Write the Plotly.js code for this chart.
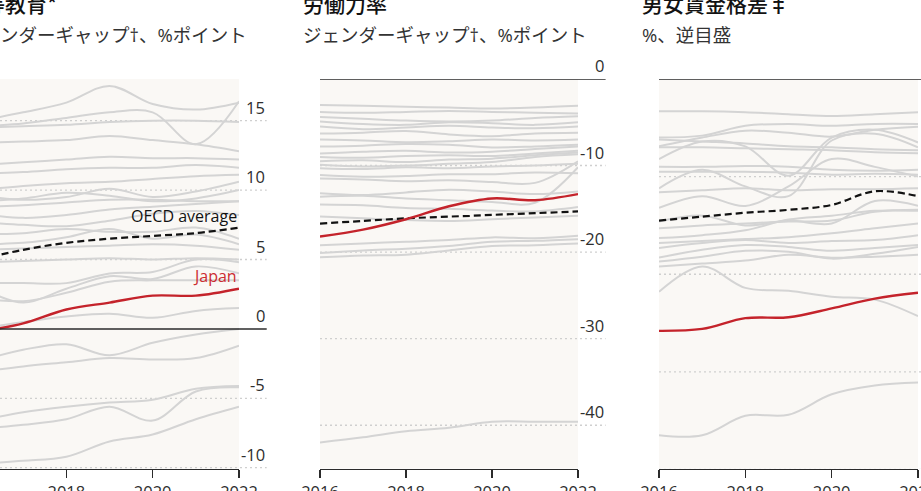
<!DOCTYPE html>
<html>
<head>
<meta charset="utf-8">
<script src="https://cdn.plot.ly/plotly-3.0.1.min.js"></script>
<style>
  html, body { margin: 0; padding: 0; width: 921px; height: 491px; overflow: hidden; background: #fff; }
  #chart { position: absolute; left: -60px; top: -20px; width: 1000px; height: 530px; }
</style>
</head>
<body>
<div id="chart"></div>
<script>
const years = [2016, 2017, 2018, 2019, 2020, 2021, 2022];
const yearTicks = [2016, 2018, 2020, 2022];

// panel 1: tertiary education gap, % points
const eduTicks = [15, 10, 5, 0, -5, -10];
const eduJapan = [-0.2, 0.4, 1.4, 1.9, 2.4, 2.4, 2.9];
const eduOecd = [5.0, 5.7, 6.2, 6.5, 6.7, 6.9, 7.3];
const eduOthers = [
    [15.0, 15.6, 16.3, 17.5, 16.2, 15.8, 16.3],
    [14.6, 14.8, 15.2, 15.6, 15.6, 13.3, 16.4],
    [14.5, 14.6, 14.7, 14.9, 15.0, 15.0, 14.9],
    [13.4, 13.5, 13.6, 13.9, 13.6, 13.3, 12.8],
    [11.8, 12.0, 12.2, 12.4, 12.3, 12.3, 12.2],
    [11.2, 11.3, 11.5, 11.6, 11.6, 11.8, 11.6],
    [10.0, 10.3, 10.5, 10.6, 10.8, 11.0, 11.1],
    [9.6, 9.3, 9.5, 10.1, 9.5, 9.9, 10.6],
    [9.2, 9.4, 9.8, 9.6, 9.2, 9.4, 10.0],
    [8.8, 8.9, 9.1, 9.3, 9.3, 9.2, 9.2],
    [8.3, 8.0, 8.2, 8.6, 8.8, 9.0, 9.2],
    [7.7, 7.5, 7.4, 7.8, 8.3, 8.5, 8.2],
    [6.8, 6.9, 7.2, 7.0, 7.0, 7.3, 6.5],
    [6.1, 6.2, 6.6, 7.2, 6.5, 6.8, 6.1],
    [5.7, 5.8, 5.9, 6.0, 6.1, 6.0, 5.7],
    [4.8, 4.9, 5.0, 5.1, 5.0, 5.1, 5.0],
    [3.3, 3.3, 3.3, 4.0, 4.1, 5.0, 4.8],
    [2.2, 2.0, 2.6, 3.4, 3.5, 3.5, 3.5],
    [3.0, 1.9, 2.9, 3.8, 3.6, 4.5, 4.0],
    [0.0, 0.5, 0.9, 1.1, 0.8, 1.3, 1.5],
    [-2.3, -1.5, -1.1, -1.9, -1.0, -0.4, 0.0],
    [-3.1, -2.7, -2.4, -2.1, -2.2, -2.1, -1.2],
    [-6.6, -6.0, -5.6, -5.3, -5.1, -4.3, -4.1],
    [-7.2, -6.9, -6.5, -5.6, -6.6, -4.5, -4.2],
    [-9.7, -9.5, -9.2, -8.1, -7.6, -6.5, -5.6]
];

// panel 2: labour-force participation gap, % points
const labTicks = [0, -10, -20, -30, -40];
const labJapan = [-18.2, -17.4, -16.2, -14.7, -13.8, -14.0, -13.3];
const labOecd = [-16.7, -16.4, -16.1, -15.9, -15.7, -15.5, -15.3];
const labOthers = [
    [-3.0, -3.1, -3.2, -3.3, -3.4, -3.3, -3.1],
    [-3.8, -3.9, -3.8, -3.7, -3.8, -3.9, -4.0],
    [-4.4, -4.6, -4.8, -4.9, -4.8, -4.5, -4.3],
    [-4.9, -5.2, -5.3, -5.0, -5.1, -5.3, -5.0],
    [-5.5, -5.8, -5.6, -5.4, -5.6, -5.7, -5.5],
    [-6.3, -6.2, -6.0, -6.4, -6.6, -6.3, -6.2],
    [-7.0, -7.1, -7.3, -7.2, -7.0, -7.1, -7.0],
    [-7.8, -7.7, -7.5, -7.6, -7.9, -7.8, -7.6],
    [-8.6, -8.4, -8.3, -8.5, -8.4, -8.1, -7.8],
    [-9.0, -9.1, -8.9, -8.8, -8.9, -8.6, -8.3],
    [-9.5, -9.4, -9.6, -9.3, -9.2, -8.8, -8.5],
    [-9.9, -10.1, -10.0, -9.8, -9.6, -9.0, -8.7],
    [-10.3, -10.4, -10.2, -10.3, -10.1, -10.0, -9.8],
    [-11.1, -11.3, -11.2, -11.0, -11.0, -10.8, -10.9],
    [-11.5, -11.6, -11.8, -11.7, -11.9, -12.0, -9.5],
    [-13.2, -13.4, -13.1, -12.8, -13.0, -13.3, -13.0],
    [-13.6, -13.5, -13.8, -14.0, -14.2, -14.3, -10.2],
    [-14.5, -14.6, -14.9, -15.0, -15.2, -15.3, -14.8],
    [-15.9, -16.1, -16.3, -16.4, -16.2, -16.0, -15.8],
    [-19.2, -19.0, -18.8, -18.6, -18.3, -18.4, -18.1],
    [-20.1, -19.8, -19.6, -19.3, -18.8, -18.7, -18.5],
    [-20.6, -20.4, -20.3, -19.8, -19.3, -19.2, -19.0],
    [-42.0, -41.4, -40.7, -40.3, -39.6, -39.6, -39.6]
];

// panel 3: gender wage gap, %, inverted scale
const wageTicks = [0, 10, 20, 30, 40];
const wageJapan = [25.8, 25.6, 24.5, 24.4, 23.5, 22.5, 21.9];
const wageOecd = [14.5, 14.1, 13.7, 13.4, 12.9, 11.5, 12.0];
const wageOthers = [
    [3.3, 3.3, 3.4, 3.6, 3.8, 3.6, 3.4],
    [6.0, 5.8, 4.8, 4.6, 4.8, 4.6, 4.6],
    [6.9, 6.0, 5.3, 5.5, 5.9, 5.2, 4.9],
    [6.2, 6.4, 6.6, 6.9, 7.0, 7.2, 7.3],
    [7.0, 7.0, 7.1, 7.2, 7.3, 7.5, 7.6],
    [9.0, 9.0, 8.9, 9.0, 9.3, 9.4, 9.3],
    [8.2, 6.4, 6.9, 9.9, 6.0, 5.2, 6.5],
    [9.5, 9.5, 9.5, 9.6, 9.8, 9.7, 9.8],
    [11.2, 9.3, 11.0, 12.0, 6.3, 5.6, 7.0],
    [11.6, 11.4, 11.2, 11.4, 11.3, 11.3, 11.2],
    [13.2, 12.0, 13.0, 11.0, 8.2, 9.0, 10.0],
    [14.6, 14.0, 15.0, 14.5, 14.8, 12.5, 13.0],
    [15.3, 15.0, 14.8, 14.6, 14.5, 13.6, 13.4],
    [16.3, 16.0, 15.5, 14.4, 14.0, 13.5, 13.5],
    [16.8, 16.6, 16.4, 16.2, 15.8, 15.3, 14.8],
    [17.3, 16.8, 16.5, 16.8, 16.6, 16.5, 16.0],
    [18.3, 17.5, 17.0, 17.2, 17.6, 17.3, 17.0],
    [18.7, 18.2, 17.6, 17.7, 18.4, 17.9, 17.2],
    [19.2, 18.9, 18.6, 18.0, 18.3, 18.2, 18.0],
    [21.8, 19.2, 21.4, 21.7, 22.3, 22.6, 24.3],
    [36.5, 36.5, 34.5, 34.4, 32.3, 31.4, 31.1]
];

const GREY = '#d4d4d4', RED = '#c4232b', INK = '#121212';
const JP = "'Noto Sans CJK JP', sans-serif";
const LAT = "'Open Sans', 'Noto Sans CJK JP', sans-serif";
const EXT = 1.107; // gridlines run past the plot into the label column

const panels = [
    { ax: '', others: eduOthers, japan: eduJapan, oecd: eduOecd, ticks: eduTicks, solid: 0,
      title: '高等教育*', sub: 'ジェンダーギャップ†、%ポイント' },
    { ax: '2', others: labOthers, japan: labJapan, oecd: labOecd, ticks: labTicks, solid: 0,
      title: '労働力率', sub: 'ジェンダーギャップ†、%ポイント' },
    { ax: '3', others: wageOthers, japan: wageJapan, oecd: wageOecd, ticks: wageTicks, solid: 0,
      title: '男女賃金格差‡', sub: '%、逆目盛' }
];

const traces = [], shapes = [], annotations = [];

panels.forEach(p => {
    const xa = 'x' + p.ax, ya = 'y' + p.ax;
    p.others.forEach(ys => traces.push({
        x: years, y: ys, xaxis: xa, yaxis: ya, type: 'scatter', mode: 'lines',
        line: { color: GREY, width: 2, shape: 'spline', smoothing: 1 }, hoverinfo: 'skip'
    }));
    traces.push({ x: years, y: p.oecd, xaxis: xa, yaxis: ya, type: 'scatter', mode: 'lines',
        line: { color: INK, width: 2.2, dash: '7px,4px', shape: 'spline', smoothing: 1 } });
    traces.push({ x: years, y: p.japan, xaxis: xa, yaxis: ya, type: 'scatter', mode: 'lines',
        line: { color: RED, width: 2.4, shape: 'spline', smoothing: 1 } });

    p.ticks.forEach(t => {
        const isSolid = t === p.solid;
        shapes.push({
            type: 'line', xref: xa + ' domain', yref: ya, x0: 0, x1: EXT, y0: t, y1: t,
            layer: isSolid ? 'above' : 'below',
            line: isSolid ? { color: '#2b2b2b', width: 1.6 } : { color: '#cfcfcf', width: 1.4, dash: '2px,3px' }
        });
        annotations.push({
            xref: xa + ' domain', yref: ya, x: EXT, y: t, xanchor: 'right', yanchor: 'bottom',
            text: String(t), showarrow: false, font: { family: LAT, size: 16.5, color: '#2e2e2e' }
        });
    });

    annotations.push({
        xref: xa + ' domain', yref: 'paper', x: -0.073, y: 0.9557, xanchor: 'left', yanchor: 'middle',
        text: p.title, showarrow: false, font: { family: JP, size: 21, color: INK, weight: 500 }
    });
    annotations.push({
        xref: xa + ' domain', yref: 'paper', x: -0.073, y: 0.8981, xanchor: 'left', yanchor: 'middle',
        text: p.sub, showarrow: false, font: { family: LAT, size: 18.5, color: '#333' }
    });
});

annotations.push({
    xref: 'x', yref: 'y', x: 2022, y: 8.1, xanchor: 'right', yanchor: 'middle',
    text: 'OECD average', showarrow: false, font: { family: LAT, size: 16, color: INK }
});
annotations.push({
    xref: 'x', yref: 'y', x: 2022, y: 3.8, xanchor: 'right', yanchor: 'middle',
    text: 'Japan', showarrow: false, font: { family: LAT, size: 16, color: '#cc2b30' }
});

const xBase = {
    range: [2016, 2022], tickvals: yearTicks, ticktext: yearTicks.map(String),
    showgrid: false, zeroline: false, showline: true, linecolor: '#2b2b2b', linewidth: 1.6,
    ticks: 'outside', ticklen: 8, tickwidth: 1.6, tickcolor: '#2b2b2b',
    tickfont: { family: LAT, size: 16.5, color: '#2e2e2e' }, fixedrange: true
};
const yBase = { showgrid: false, zeroline: false, showticklabels: false, ticks: '', fixedrange: true };
const yDom = [0.0783, 0.8132];

const layout = {
    width: 1000, height: 530,
    margin: { t: 0, b: 0, l: 0, r: 0 },
    paper_bgcolor: '#ffffff', plot_bgcolor: '#faf8f5',
    showlegend: false,
    xaxis:  { ...xBase, domain: [0.040, 0.299], anchor: 'y' },
    xaxis2: { ...xBase, domain: [0.380, 0.638], anchor: 'y2' },
    xaxis3: { ...xBase, domain: [0.719, 0.978], anchor: 'y3' },
    yaxis:  { ...yBase, domain: yDom, anchor: 'x', range: [-10.05, 18] },
    yaxis2: { ...yBase, domain: yDom, anchor: 'x2', range: [-45, 0] },
    yaxis3: { ...yBase, domain: yDom, anchor: 'x3', range: [39.9, 0] },
    shapes: shapes,
    annotations: annotations
};

Plotly.newPlot('chart', traces, layout, { displayModeBar: false, staticPlot: true });
</script>
</body>
</html>
